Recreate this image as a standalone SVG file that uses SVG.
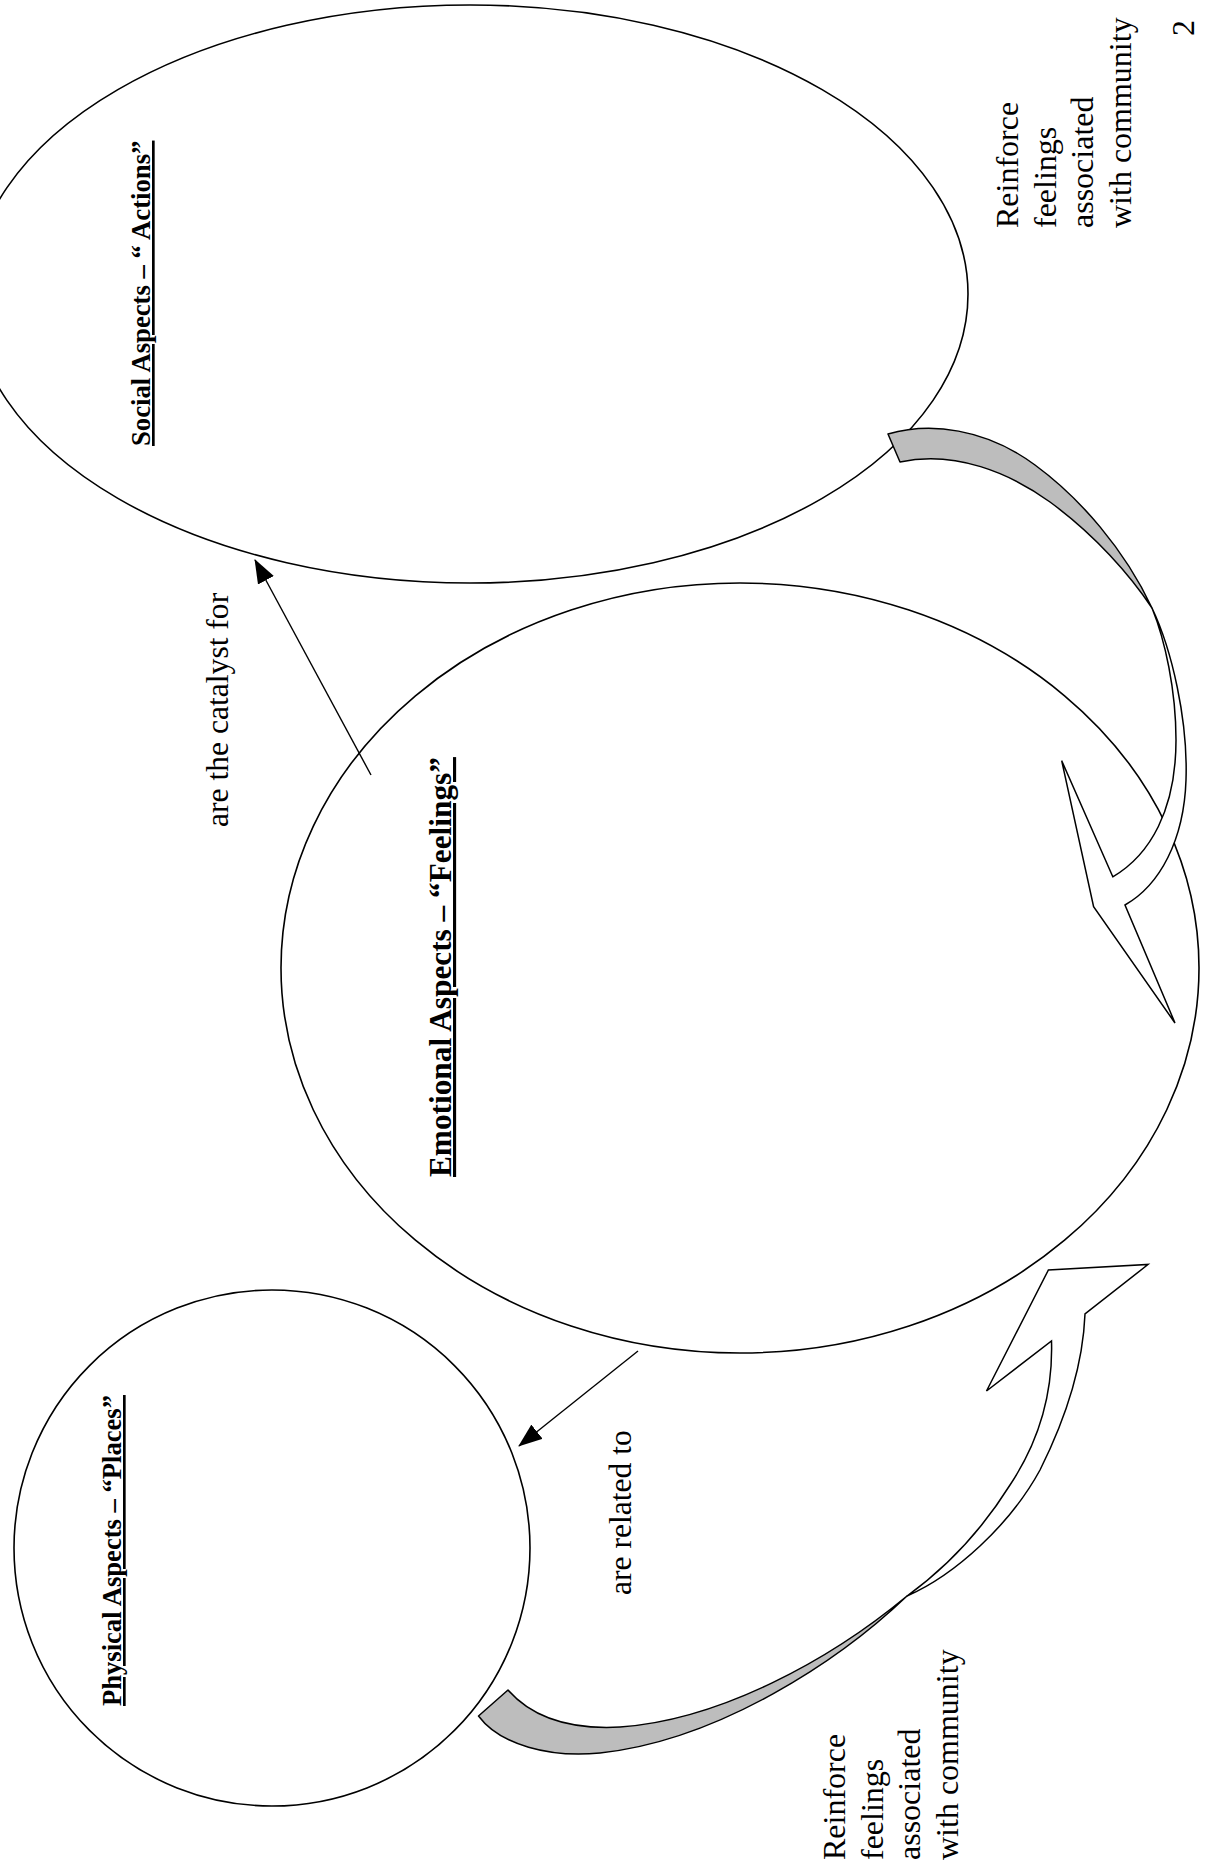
<svg xmlns="http://www.w3.org/2000/svg" width="1206" height="1865" viewBox="0 0 1206 1865">
  <style>
    .node { fill: none; stroke: #000; stroke-width: 1.6; }
    .head { font-family: 'Liberation Serif', 'Times New Roman', serif; font-weight: bold; text-decoration: underline; fill: #000; }
    .lbl { font-family: 'Liberation Serif', 'Times New Roman', serif; font-size: 31.6px; fill: #000; }
    .side { font-family: 'Liberation Serif', 'Times New Roman', serif; font-size: 32px; fill: #000; }
    .conn { stroke: #000; stroke-width: 1.4; fill: none; }
    .shade { fill: #bdbdbd; stroke: #000; stroke-width: 1.5; stroke-linejoin: round; }
    .band { fill: #fff; stroke: #000; stroke-width: 1.5; stroke-linejoin: miter; }
  </style>
  <defs>
    <marker id="head" markerUnits="userSpaceOnUse" markerWidth="24" markerHeight="18" viewBox="0 0 24 18" refX="23" refY="9" orient="auto">
      <path d="M0,0 L24,9 L0,18 Z" fill="#000"/>
    </marker>
  </defs>
  <rect width="1206" height="1865" fill="#fff"/>

  <g id="social">
    <ellipse class="node" cx="470" cy="294" rx="498" ry="289"/>
    <text class="head" font-size="26.7" transform="translate(150,446) rotate(-90)">Social Aspects – “ Actions”</text>
  </g>

  <g id="emotional">
    <ellipse class="node" cx="740" cy="968" rx="459" ry="385"/>
    <text class="head" font-size="31.3" transform="translate(451,1177) rotate(-90)">Emotional Aspects – “Feelings”</text>
  </g>

  <g id="physical">
    <circle class="node" cx="272" cy="1548" r="258"/>
    <text class="head" font-size="26.6" transform="translate(121,1706) rotate(-90)">Physical Aspects – “Places”</text>
  </g>

  <g id="connectors">
    <line class="conn" x1="371" y1="775" x2="255" y2="560" marker-end="url(#head)"/>
    <text class="lbl" transform="translate(228,827) rotate(-90)">are the catalyst for</text>

    <line class="conn" x1="638" y1="1351" x2="519" y2="1446" marker-end="url(#head)"/>
    <text class="lbl" transform="translate(631,1595) rotate(-90)">are related to</text>

    <g id="curved-arrow-top">
      <path class="shade" d="M888,434 C930,422 985,428 1035,465 C1080,498 1125,550 1152,608 C1130,575 1095,535 1050,502 C1010,473 955,450 900,462 Z"/>
      <path class="band" d="M1152,608 C1172,650 1188,720 1186,780 C1184,840 1160,885 1125,905 L1175,1023 L1093.6,906.7 L1061.7,760.7 L1112.8,876.8 C1150,855 1176,810 1176,740 C1176,690 1165,640 1152,608 Z"/>
    </g>
    <g id="curved-arrow-bottom">
      <path class="shade" d="M508,1690 C530,1715 565,1730 620,1727 C720,1720 830,1660 907,1596 C840,1660 720,1740 600,1753 C550,1758 500,1745 478.5,1716 Z"/>
      <path class="band" d="M907,1596 C955,1575 1010,1525 1040,1470 C1065,1420 1083,1365 1085,1314 L1148,1264.5 L1048.4,1270 L986.5,1391 L1051.5,1341 C1053,1390 1040,1440 1010,1485 C985,1525 950,1565 907,1596 Z"/>
    </g>

    <text class="side" transform="translate(1018,228) rotate(-90)">Reinforce</text>
    <text class="side" transform="translate(1055.7,228) rotate(-90)">feelings</text>
    <text class="side" transform="translate(1093.4,228) rotate(-90)">associated</text>
    <text class="side" transform="translate(1131,228) rotate(-90)">with community</text>

    <text class="side" transform="translate(845,1860) rotate(-90)">Reinforce</text>
    <text class="side" transform="translate(882.5,1860) rotate(-90)">feelings</text>
    <text class="side" transform="translate(920,1860) rotate(-90)">associated</text>
    <text class="side" transform="translate(957.5,1860) rotate(-90)">with community</text>
  </g>

  <text class="side" transform="translate(1194,36) rotate(-90)">2</text>
</svg>
